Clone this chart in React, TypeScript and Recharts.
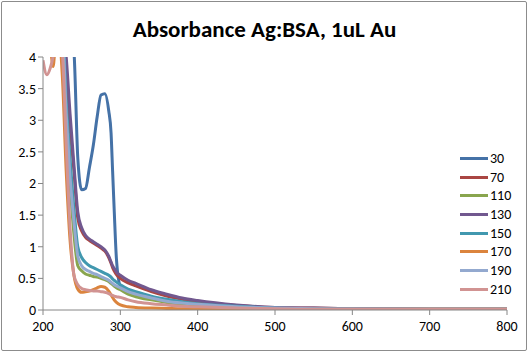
import { Line, LineChart, XAxis, YAxis } from "recharts";

const wavelengths = [
  200, 205, 210, 213, 216, 220, 225, 230, 235, 240, 245, 250, 255, 260, 265, 270, 275, 280, 285, 288,
  290, 292, 295, 300, 310, 320, 340, 360, 380, 400, 450, 500, 550, 600, 700, 800,
];

const s30 = [
  4.5, 4.5, 4.5, 4.5, 4.5, 4.5, 4.5, 4.5, 4.5, 4.1, 2.4, 1.9, 1.92, 2.25, 2.6, 3.05, 3.4, 3.42, 3.15, 2.8,
  2.2, 1.6, 0.8, 0.38, 0.3, 0.25, 0.18, 0.13, 0.1, 0.07, 0.04, 0.02, 0.015, 0.01, 0.01, 0.01,
];
const s70 = [
  4.5, 4.5, 4.5, 4.5, 4.5, 4.5, 4.5, 3.8, 2.9, 2.2, 1.45, 1.25, 1.15, 1.1, 1.06, 1.02, 0.98, 0.93, 0.83, 0.74,
  0.67, 0.62, 0.56, 0.5, 0.43, 0.38, 0.29, 0.22, 0.17, 0.13, 0.07, 0.04, 0.03, 0.02, 0.01, 0.01,
];
const s110 = [
  4.5, 4.5, 4.5, 4.5, 4.5, 4.5, 4.4, 3.0, 2.0, 1.2, 0.7, 0.62, 0.57, 0.55, 0.53, 0.52, 0.5, 0.48, 0.45, 0.42,
  0.4, 0.38, 0.35, 0.32, 0.25, 0.21, 0.16, 0.12, 0.09, 0.07, 0.04, 0.02, 0.015, 0.01, 0.01, 0.01,
];
const s130 = [
  4.5, 4.5, 4.5, 4.5, 4.5, 4.5, 4.5, 4.0, 3.1, 2.3, 1.55, 1.3, 1.18, 1.12, 1.08, 1.04, 1.0, 0.95, 0.85, 0.76,
  0.7, 0.66, 0.6, 0.55, 0.47, 0.42, 0.32, 0.25, 0.19, 0.15, 0.08, 0.04, 0.03, 0.02, 0.01, 0.01,
];
const s150 = [
  4.5, 4.5, 4.5, 4.5, 4.5, 4.5, 4.5, 3.3, 2.4, 1.6, 1.0, 0.83, 0.75, 0.7, 0.67, 0.64, 0.61, 0.58, 0.55, 0.52,
  0.49, 0.47, 0.44, 0.4, 0.33, 0.29, 0.22, 0.17, 0.13, 0.1, 0.06, 0.03, 0.02, 0.015, 0.01, 0.01,
];
const s170 = [
  4.3, 4.3, 4.1, 3.85, 4.2, 4.4, 3.7, 2.2, 1.1, 0.55, 0.33, 0.28, 0.29, 0.3, 0.32, 0.35, 0.37, 0.36, 0.3, 0.24,
  0.2, 0.16, 0.12, 0.08, 0.05, 0.04, 0.03, 0.025, 0.02, 0.02, 0.015, 0.01, 0.01, 0.01, 0.01, 0.01,
];
const s190 = [
  4.5, 4.5, 4.5, 4.5, 4.5, 4.5, 4.4, 3.1, 2.1, 1.4, 0.85, 0.7, 0.64, 0.61, 0.58, 0.56, 0.53, 0.5, 0.47, 0.44,
  0.42, 0.4, 0.38, 0.35, 0.29, 0.25, 0.19, 0.14, 0.11, 0.09, 0.05, 0.03, 0.02, 0.015, 0.01, 0.01,
];
const s210 = [
  3.95, 3.72, 3.85, 4.0, 4.2, 4.3, 4.05, 2.6, 1.3, 0.55, 0.4, 0.34, 0.32, 0.31, 0.3, 0.3, 0.29, 0.28, 0.26, 0.24,
  0.23, 0.22, 0.21, 0.2, 0.16, 0.13, 0.1, 0.08, 0.06, 0.05, 0.03, 0.02, 0.01, 0.01, 0.01, 0.01,
];

const seriesNames = ["30", "70", "110", "130", "150", "170", "190", "210"];
const seriesValues = [s30, s70, s110, s130, s150, s170, s190, s210];
const colors = ["#4572A7", "#AA4643", "#89A54E", "#71588F", "#4198AF", "#DB843D", "#93A9CF", "#D19392"];

const xTicks = [200, 300, 400, 500, 600, 700, 800];
const yTicks = [0, 0.5, 1, 1.5, 2, 2.5, 3, 3.5, 4];

const data = wavelengths.map((wl, i) => {
  const row: Record<string, number> = { wl };
  seriesNames.forEach((name, k) => {
    row[name] = seriesValues[k][i];
  });
  return row;
});

const font = "Carlito, Calibri, 'Liberation Sans', Arial, sans-serif";

function LegendBox() {
  return (
    <div
      style={{
        position: "absolute",
        left: 460,
        top: 149,
        fontFamily: font,
        fontSize: 14,
        color: "#000",
      }}
    >
      {seriesNames.map((name, k) => (
        <div key={name} style={{ display: "flex", alignItems: "center", height: 18.7 }}>
          <div style={{ width: 28, height: 3, background: colors[k], marginRight: 2 }} />
          <span>{name}</span>
        </div>
      ))}
    </div>
  );
}

export default function App() {
  return (
    <div style={{ position: "absolute", left: 0, top: 0, width: 529, height: 353, background: "#fff" }}>
      <div
        style={{
          position: "absolute",
          left: 1,
          top: 1,
          width: 524,
          height: 348,
          border: "1px solid #8c8c8c",
          borderRadius: 2,
        }}
      />
      <div
        style={{
          position: "absolute",
          left: 0,
          top: 15,
          width: 529,
          textAlign: "center",
          fontFamily: font,
          fontWeight: "bold",
          fontSize: 23,
          color: "#000",
        }}
      >
        Absorbance Ag:BSA, 1uL Au
      </div>
      <LineChart
        width={529}
        height={353}
        data={data}
        margin={{ top: 57, right: 22, left: 0, bottom: 13 }}
        style={{ position: "absolute", left: 0, top: 0 }}
      >
        <XAxis
          dataKey="wl"
          type="number"
          domain={[200, 800]}
          ticks={xTicks}
          height={30}
          stroke="#868686"
          tickSize={5}
          tick={{ fill: "#000", fontSize: 14, fontFamily: font }}
          tickMargin={6}
          allowDataOverflow
        />
        <YAxis
          type="number"
          domain={[0, 4]}
          ticks={yTicks}
          width={43}
          stroke="#868686"
          tickSize={5}
          tick={{ fill: "#000", fontSize: 14, fontFamily: font }}
          tickMargin={2}
          allowDataOverflow
        />
        {seriesNames.map((name, k) => (
          <Line
            key={name}
            type="monotone"
            dataKey={name}
            stroke={colors[k]}
            strokeWidth={3}
            dot={false}
            isAnimationActive={false}
          />
        ))}
      </LineChart>
      <LegendBox />
    </div>
  );
}
